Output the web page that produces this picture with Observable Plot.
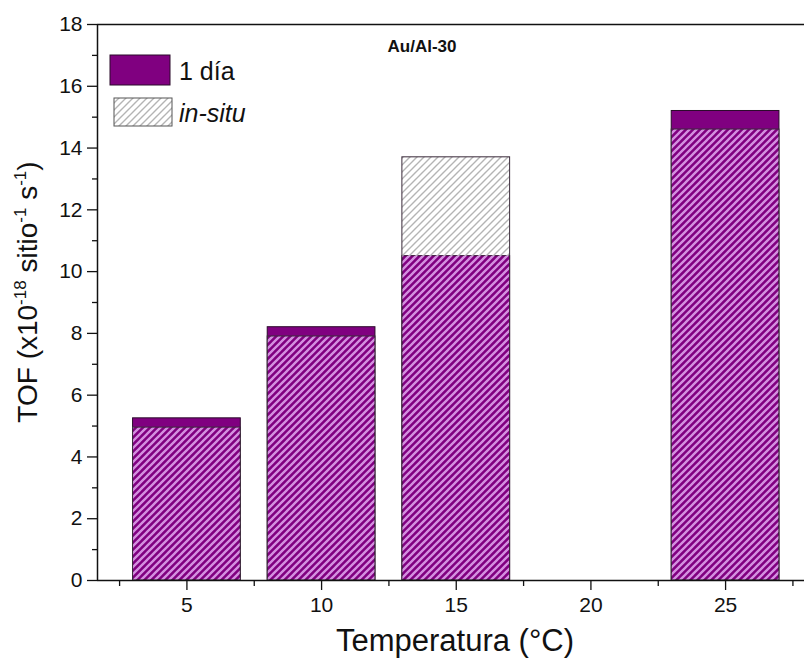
<!DOCTYPE html>
<html>
<head>
<meta charset="utf-8">
<script src="https://cdn.jsdelivr.net/npm/d3@7"></script>
<script src="https://cdn.jsdelivr.net/npm/@observablehq/plot@0.6"></script>
<style>
  html, body { margin: 0; padding: 0; background: #fff; }
  #chart { width: 804px; height: 666px; }
</style>
</head>
<body>
<div id="chart"></div>
<script>
// ---- data ----
const temperatures = [5, 10, 15, 25];
const unDia = [5.25, 8.2, 10.5, 15.2];      // "1 día"
const inSitu = [4.95, 7.9, 13.7, 14.6];     // "in-situ"
const xTicks = [5, 10, 15, 20, 25];
const xMinorTicks = [2.5, 7.5, 12.5, 17.5, 22.5, 27.5];
const yTicks = [0, 2, 4, 6, 8, 10, 12, 14, 16, 18];
const yMinorTicks = [1, 3, 5, 7, 9, 11, 13, 15, 17];
const seriesNames = ["1 día", "in-situ"];
const panelTitle = "Au/Al-30";
const xTitle = "Temperatura (°C)";

// ---- styles ----
const purple = "#800080";
const halfWidth = 2;
const font = "'Liberation Sans', Arial, sans-serif";

const rows = temperatures.map((t, i) => ({
  t, unDia: unDia[i], inSitu: inSitu[i], overlap: Math.min(unDia[i], inSitu[i])
}));
const xl = d => d.t - halfWidth, xr = d => d.t + halfWidth;
const xDomain = [1.68, 27.93];

const chart = Plot.plot({
  width: 804,
  height: 666,
  marginLeft: 97,
  marginRight: 0,
  marginTop: 24,
  marginBottom: 86,
  style: { fontFamily: font, background: "white", color: "#111" },
  x: { domain: xDomain },
  y: { domain: [0, 18] },
  marks: [
    Plot.rect(rows, { x1: xl, x2: xr, y1: 0, y2: "unDia", fill: purple, stroke: "#2b0b2b", strokeWidth: 1 }),
    Plot.rect(rows, { x1: xl, x2: xr, y1: 0, y2: "inSitu", fill: "url(#hatchGray)" }),
    Plot.rect(rows, { x1: xl, x2: xr, y1: 0, y2: "overlap", fill: "url(#hatchPurple)" }),
    Plot.rect(rows, { x1: xl, x2: xr, y1: 0, y2: "inSitu", fill: "none", stroke: "#3a2a3a", strokeWidth: 1 }),
    Plot.ruleY([18], { stroke: "#111", strokeWidth: 1.5 }),
    Plot.ruleY([0], { stroke: "#111", strokeWidth: 1.5 }),
    Plot.ruleX([xDomain[0]], { stroke: "#111", strokeWidth: 1.5 }),
    Plot.axisY({ ticks: yTicks, tickSize: 10, tickFormat: () => "", label: null, strokeWidth: 1.3 }),
    Plot.axisY({ ticks: yMinorTicks, tickSize: 5, tickFormat: () => "", label: null, strokeWidth: 1.3 }),
    Plot.axisX({ ticks: xTicks, tickSize: 10, tickFormat: () => "", label: null, strokeWidth: 1.3 }),
    Plot.axisX({ ticks: xMinorTicks, tickSize: 6, tickFormat: () => "", label: null, strokeWidth: 1.3 }),
    // tick labels
    Plot.text(yTicks, { x: xDomain[0], y: d => d, text: d => String(d), textAnchor: "end", dx: -15, fontSize: 21, fill: "#111" }),
    Plot.text(xTicks, { x: d => d, y: 0, text: d => String(d), dy: 25, fontSize: 21, fill: "#111" }),
    Plot.text([panelTitle], { frameAnchor: "top", dx: -29, dy: 15, fontSize: 17, fontWeight: "bold", fill: "#111" }),
    Plot.text([xTitle], { frameAnchor: "bottom", dx: 4, dy: 70, fontSize: 31, fill: "#111" })
  ]
});

const svg = d3.select(chart);

// pattern definitions
const defs = svg.insert("defs", ":first-child");
function hatch(id, color, w) {
  const p = defs.append("pattern").attr("id", id)
    .attr("patternUnits", "userSpaceOnUse").attr("width", 7).attr("height", 7);
  p.append("path").attr("d", "M-1,1 l2,-2 M0,7 l7,-7 M6,8 l2,-2")
    .attr("stroke", color).attr("stroke-width", w).attr("fill", "none");
}
hatch("hatchGray", "#b4b4b4", 1.4);
hatch("hatchPurple", "#d48ee0", 2.3);

// y-axis title with superscripts
const yl = svg.append("text")
  .attr("transform", "translate(37,292) rotate(-90)")
  .attr("text-anchor", "middle")
  .attr("font-family", font)
  .attr("font-size", 28)
  .attr("fill", "#111");
yl.append("tspan").text("TOF (x10");
yl.append("tspan").attr("font-size", 17).attr("dy", -11).text("-18");
yl.append("tspan").attr("dy", 11).text(" sitio");
yl.append("tspan").attr("font-size", 17).attr("dy", -11).text("-1");
yl.append("tspan").attr("dy", 11).text(" s");
yl.append("tspan").attr("font-size", 17).attr("dy", -11).text("-1");
yl.append("tspan").attr("dy", 11).text(")");

// legend (inside the frame, top-left)
const lg = svg.append("g").attr("font-family", font).attr("font-size", 25)
  .attr("fill", "#111").attr("text-anchor", "start");
lg.append("rect").attr("x", 110).attr("y", 55).attr("width", 60).attr("height", 30)
  .attr("fill", purple).attr("stroke", "#2b0b2b").attr("stroke-width", 1);
lg.append("text").attr("x", 179).attr("y", 71).attr("dy", "0.35em").text(seriesNames[0]);
lg.append("rect").attr("x", 114).attr("y", 98).attr("width", 58).attr("height", 28)
  .attr("fill", "url(#hatchGray)").attr("stroke", "#555").attr("stroke-width", 1);
lg.append("text").attr("x", 179).attr("y", 113).attr("dy", "0.35em")
  .attr("font-style", "italic").text(seriesNames[1]);

document.getElementById("chart").appendChild(chart);
</script>
</body>
</html>
